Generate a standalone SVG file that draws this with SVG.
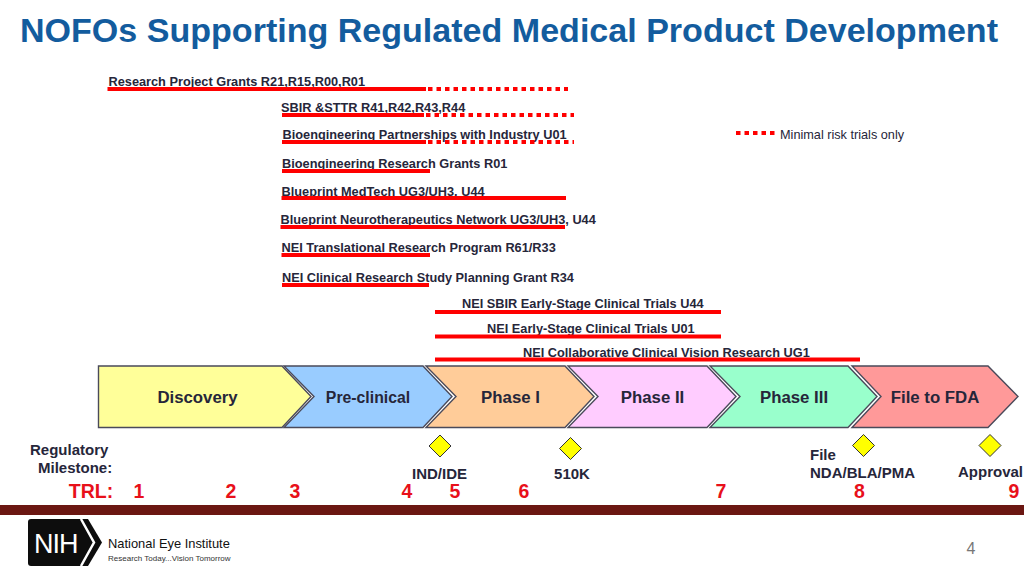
<svg xmlns="http://www.w3.org/2000/svg" width="1024" height="576" viewBox="0 0 1024 576">
<style>
text{font-family:"Liberation Sans",Arial,sans-serif;fill:#26263a}
.t{font-size:12.750px;font-weight:700}
.b{font-size:15px;font-weight:700}
.p{font-size:16.800px;font-weight:700;text-anchor:middle}
.r{font-size:19.500px;font-weight:700;fill:#e8101a;text-anchor:middle}
.s{stroke:#f00;stroke-width:4;fill:none}
.d{stroke:#f00;stroke-width:4;fill:none;stroke-dasharray:4.500 4}
.c{stroke:#4a4a5a;stroke-width:1.400}
.m{fill:#ff0;stroke:#333;stroke-width:1}
</style>
<rect width="1024" height="576" fill="#fff"/>
<text x="20" y="42" style="font-size:34.050px;font-weight:700;fill:#135c9e">NOFOs Supporting Regulated Medical Product Development</text>
<g id="bars">
<text class="t" x="108.500" y="85.500">Research Project Grants R21,R15,R00,R01</text>
<text class="t" x="281" y="112">SBIR &amp;STTR R41,R42,R43,R44</text>
<text class="t" x="282.500" y="139">Bioengineering Partnerships with Industry U01</text>
<text class="t" x="282" y="168">Bioengineering Research Grants R01</text>
<text class="t" x="281.500" y="195.500">Blueprint MedTech UG3/UH3, U44</text>
<text class="t" x="280.500" y="224">Blueprint Neurotherapeutics Network UG3/UH3, U44</text>
<text class="t" x="281.500" y="252">NEI Translational Research Program R61/R33</text>
<text class="t" x="282" y="282">NEI Clinical Research Study Planning Grant R34</text>
<text class="t" x="462" y="308">NEI SBIR Early-Stage Clinical Trials U44</text>
<text class="t" x="487" y="333">NEI Early-Stage Clinical Trials U01</text>
<text class="t" x="523" y="357">NEI Collaborative Clinical Vision Research UG1</text>
</g>
<g id="connectors">
<path class="s" d="M107.500 89H426"/><path class="d" d="M428 89H568"/>
<path class="s" d="M282 115H424"/><path class="d" d="M426 115H574"/>
<path class="s" d="M282 142H426"/><path class="d" d="M428 142H574"/>
<path class="s" d="M282 171H430"/>
<path class="s" d="M281.500 198H566"/>
<path class="s" d="M280.500 227H565"/>
<path class="s" d="M281.500 255H430"/>
<path class="s" d="M282 285H429"/>
<path class="s" d="M435 312H721"/>
<path class="s" d="M435 336.500H721"/>
<path class="s" d="M435 359.500H860"/>
<path class="d" d="M736 133H776"/>
</g>
<text x="780" y="139" style="font-size:12.700px">Minimal risk trials only</text>
<g id="discovery"><path class="c" fill="#ffff99" d="M98.500 366H282L311 396.500L282 427.500H98.500Z"/><text class="p" x="197.500" y="403">Discovery</text></g>
<g id="preclinical"><path class="c" fill="#99ccff" d="M284 366H423L452 396.500L423 427.500H284L314 396.500Z"/><text class="p" x="368" y="402.500" style="font-size:15.800px">Pre-clinical</text></g>
<g id="phase1"><path class="c" fill="#ffcc99" d="M426 366H565L594 396.500L565 427.500H426L456 396.500Z"/><text class="p" x="510.500" y="403">Phase I</text></g>
<g id="phase2"><path class="c" fill="#ffccff" d="M568 366H707L736 396.500L707 427.500H568L598 396.500Z"/><text class="p" x="652.500" y="403">Phase II</text></g>
<g id="phase3"><path class="c" fill="#99ffcc" d="M710 366H848L877 396.500L848 427.500H710L740 396.500Z"/><text class="p" x="794" y="403">Phase III</text></g>
<g id="file"><path class="c" fill="#ff9999" d="M852 366H988L1018 396.500L988 427.500H852L881 396.500Z"/><text class="p" x="935" y="403">File to FDA</text></g>
<g id="milestones">
<text class="b" x="30" y="455">Regulatory</text><text class="b" x="38" y="473">Milestone:</text>
<path id="m1" class="m" d="M440 435L451 446L440 457L429 446Z"/><text class="b" x="439.500" y="479" text-anchor="middle">IND/IDE</text>
<path id="m2" class="m" d="M570.500 437.500L581.500 448.500L570.500 459.500L559.500 448.500Z"/><text class="b" x="572" y="479" text-anchor="middle">510K</text>
<path id="m3" class="m" d="M863.500 434.500L874.500 445.500L863.500 456.500L852.500 445.500Z"/><text class="b" x="810" y="460">File</text><text class="b" x="810" y="478">NDA/BLA/PMA</text>
<path id="m4" class="m" d="M990 434.500L1001 445.500L990 456.500L979 445.500Z"/><text class="b" x="958" y="477">Approval</text>
</g>
<g id="trl">
<text class="r" x="91" y="498">TRL:</text><text class="r" x="139" y="498">1</text><text class="r" x="231" y="498">2</text><text class="r" x="295" y="498">3</text><text class="r" x="407" y="498">4</text><text class="r" x="455" y="498">5</text><text class="r" x="524" y="498">6</text><text class="r" x="721" y="498">7</text><text class="r" x="859.500" y="498">8</text><text class="r" x="1014" y="498">9</text>
</g>
<rect x="0" y="505" width="1024" height="10" fill="#6b1712"/>
<g id="logo">
<path fill="#0d0d0d" d="M31 519H88L102 542.500L88 566H31Q28 566 28 563V522Q28 519 31 519Z"/>
<path fill="none" stroke="#fff" stroke-width="2.500" d="M81 519L94 542.500L81 566"/>
<text x="34" y="553" style="font-size:27px;fill:#fff;letter-spacing:-1px">NIH</text>
<text x="108" y="548" style="font-size:12.900px;fill:#111">National Eye Institute</text>
<text x="108" y="561" style="font-size:8px;fill:#333">Research Today...Vision Tomorrow</text>
</g>
<text x="971" y="554" text-anchor="middle" style="font-size:16px;fill:#777">4</text>
</svg>
